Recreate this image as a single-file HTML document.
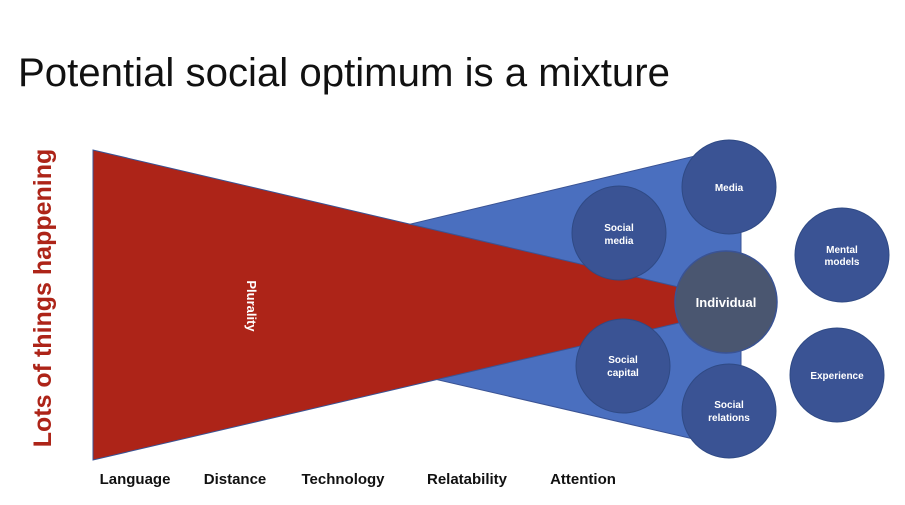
<!DOCTYPE html>
<html><head><meta charset="utf-8"><style>
html,body{margin:0;padding:0;background:#fff;}
svg{display:block;font-family:"Liberation Sans",Arial,sans-serif;}
</style></head><body>
<svg width="905" height="505" viewBox="0 0 905 505">
<text x="18" y="86" font-size="40" fill="#111" textLength="652" lengthAdjust="spacingAndGlyphs">Potential social optimum is a mixture</text>
<polygon points="93,300 741,145 741,450" fill="#4a6fbf" stroke="#3a5394" stroke-width="1"/>
<polygon points="93,150 93,460 700,318 700,292" fill="#ad2418" stroke="#3a5394" stroke-width="1"/>
<text transform="translate(247,306) rotate(90)" text-anchor="middle" font-size="13" font-weight="bold" fill="#fff">Plurality</text>
<text transform="translate(51,298) rotate(-90)" text-anchor="middle" font-size="25" font-weight="bold" fill="#ad2418">Lots of things happening</text>
<g fill="#3a5394" stroke="#2f4a85" stroke-width="1">
<circle cx="729" cy="187" r="47"/>
<circle cx="619" cy="233" r="47"/>
<circle cx="623" cy="366" r="47"/>
<circle cx="729" cy="411" r="47"/>
<circle cx="842" cy="255" r="47"/>
<circle cx="837" cy="375" r="47"/>
</g>
<circle cx="726" cy="302" r="51" fill="#4a5670" stroke="#3a5394" stroke-width="1.5"/>
<g fill="#fff" font-weight="bold" font-size="10" text-anchor="middle">
<text x="729" y="191">Media</text>
<text x="619" y="231">Social</text><text x="619" y="244">media</text>
<text x="623" y="363">Social</text><text x="623" y="376">capital</text>
<text x="729" y="408">Social</text><text x="729" y="421">relations</text>
<text x="842" y="253">Mental</text><text x="842" y="265">models</text>
<text x="837" y="379">Experience</text>
<text x="726" y="307" font-size="13">Individual</text>
</g>
<g font-size="15" font-weight="bold" fill="#111" text-anchor="middle">
<text x="135" y="484">Language</text>
<text x="235" y="484">Distance</text>
<text x="343" y="484">Technology</text>
<text x="467" y="484">Relatability</text>
<text x="583" y="484">Attention</text>
</g>
</svg>
</body></html>
